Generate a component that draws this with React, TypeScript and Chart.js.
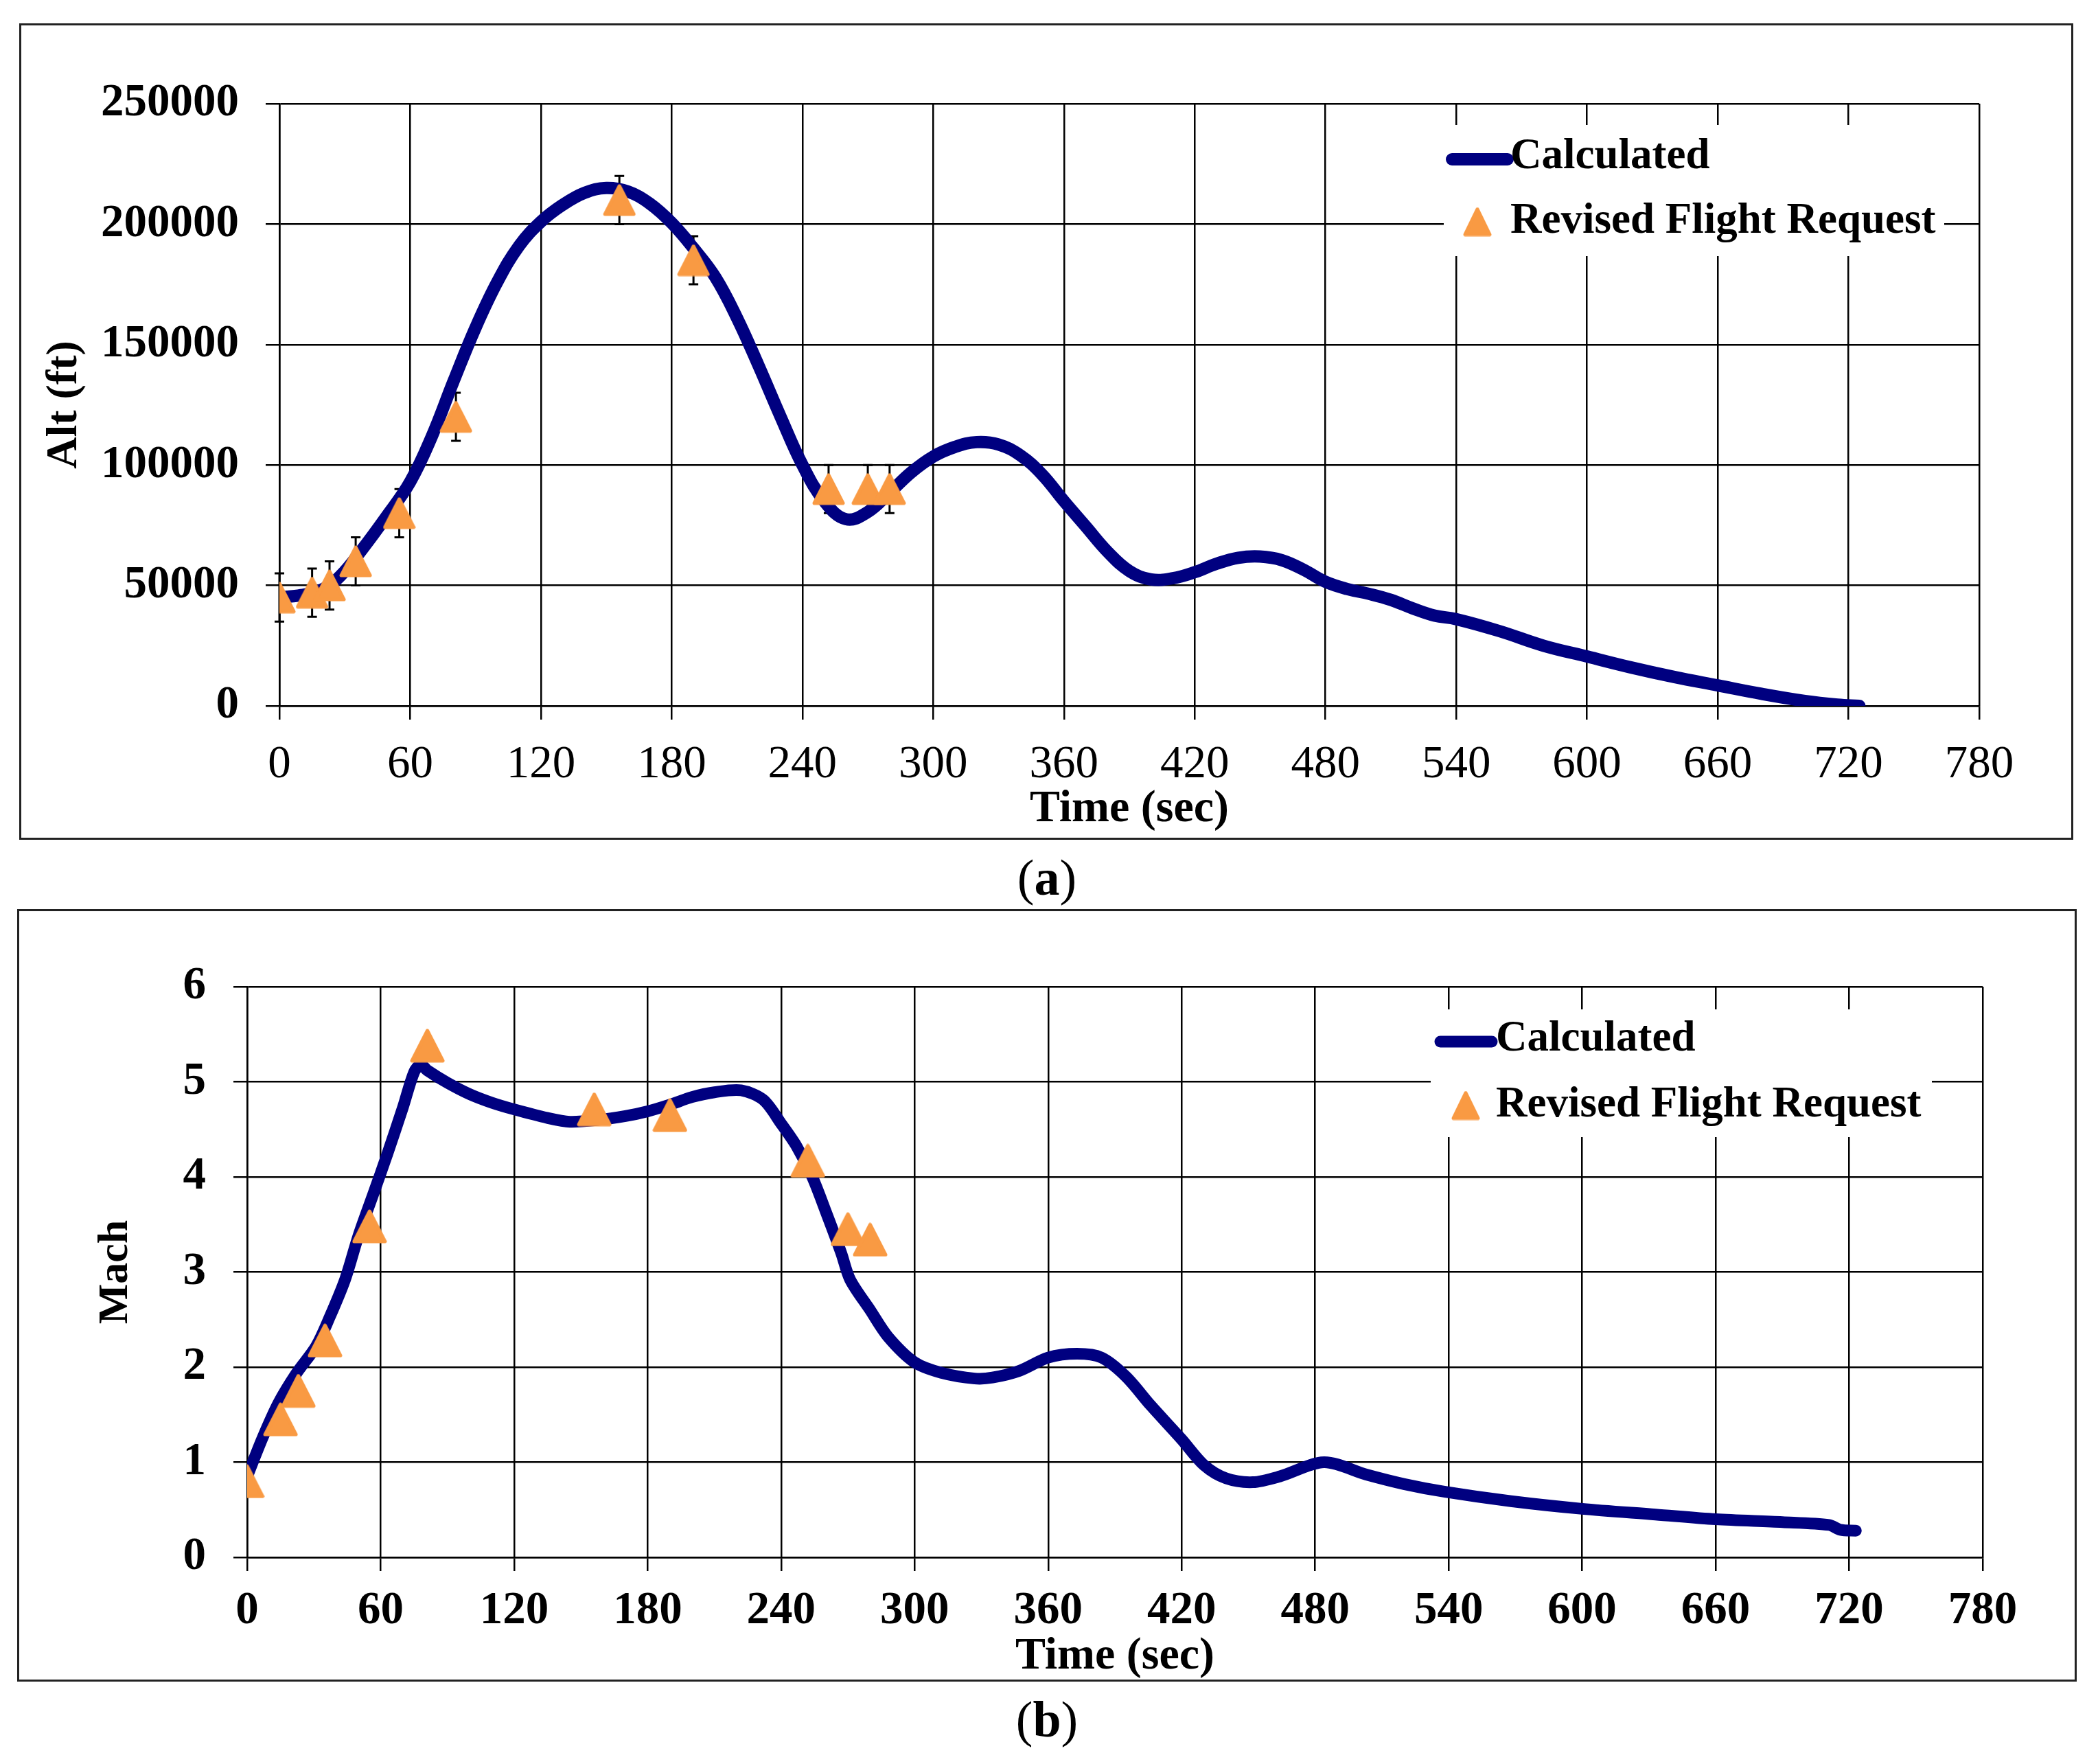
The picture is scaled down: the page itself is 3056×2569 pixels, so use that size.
import React, { useEffect, useRef } from 'react';
import { Chart, registerables } from 'chart.js';
Chart.register(...registerables);

const FONT = "'Liberation Serif', 'Times New Roman', serif";
const NAVY = '#000080';
const ORANGE = '#F99A43';

Chart.defaults.font.family = FONT;
Chart.defaults.color = '#000';

// shared time axis (sec)
const timeTicks = [0, 60, 120, 180, 240, 300, 360, 420, 480, 540, 600, 660, 720, 780];

// revised flight request points (same times on both panels)
const requestTime = [0, 15, 23, 35, 55, 81, 156, 190, 252, 270, 280];
const requestAlt = [45000, 47000, 50000, 60000, 80000, 120000, 210000, 185000, 90000, 90000, 90000];
const requestAltErr = [10000, 10000, 10000, 10000, 10000, 10000, 10000, 10000, 10000, 10000, 10000];
const requestMach = [0.8, 1.45, 1.75, 2.28, 3.48, 5.38, 4.71, 4.65, 4.17, 3.45, 3.34];

// (a) altitude
const altTicks = [0, 50000, 100000, 150000, 200000, 250000];
const altCalcTime = [
  0, 10, 20, 28, 38, 49,
  60, 70, 80, 90, 100, 110, 120, 130, 140, 150, 160, 170, 180, 190, 200, 210, 220, 230, 240,
  250, 260, 270, 280, 290, 300, 310, 320, 330, 340, 350, 360, 370, 380, 390, 400, 410, 420,
  430, 440, 450, 460, 470, 480, 490, 500, 510, 520, 530, 540,
  560, 580, 600, 620, 640, 660, 680, 700, 715, 725,
];
const altCalc = [
  45000, 46000, 48500, 54000, 65000, 78500,
  93000, 112000, 135000, 157000, 176000, 191000, 201000, 208000, 213000, 215000, 213500, 208500, 200500, 190000, 178000, 161000, 141000, 120000, 100000,
  85000, 77500, 80500, 88500, 97000, 103500, 107500, 109500, 108500, 104000, 96000, 85000, 74500, 64000, 56000, 52500, 53000, 55500,
  59000, 61500, 62000, 60500, 56500, 51500, 48500, 46500, 44000, 40500, 37500, 36000,
  31000, 25000, 20500, 16000, 12000, 8500, 5000, 2000, 500, 0,
];

// (b) Mach
const machTicks = [0, 1, 2, 3, 4, 5, 6];
const machCalcTime = [
  0, 7, 14, 22, 31, 37, 44, 50, 57, 63,
  70, 75, 78, 81, 90, 100, 110, 120, 135, 145,
  158, 170, 180, 190, 200, 210, 222, 232, 240, 247,
  254, 260, 267, 271, 280, 288, 300, 312, 327, 335,
  347, 360, 373, 384, 395, 406, 420, 430, 440, 452,
  464, 484, 503, 520, 538, 568, 600, 633, 660, 690,
  711, 716, 723,
];
const machCalc = [
  0.85, 1.26, 1.62, 1.93, 2.22, 2.52, 2.92, 3.38, 3.84, 4.24,
  4.73, 5.1, 5.18, 5.12, 4.99, 4.87, 4.78, 4.71, 4.62, 4.58,
  4.6, 4.64, 4.69, 4.76, 4.84, 4.89, 4.91, 4.81, 4.56, 4.32,
  4.0, 3.64, 3.2, 2.92, 2.6, 2.32, 2.05, 1.94, 1.88, 1.89,
  1.96, 2.1, 2.14, 2.1, 1.9, 1.6, 1.24, 0.97, 0.83, 0.79,
  0.85, 1.0, 0.87, 0.77, 0.69, 0.59, 0.51, 0.45, 0.4, 0.37,
  0.34, 0.29, 0.28,
];

// rounded orange triangle marker, like the spreadsheet one
function makeTriangle(w: number, h: number) {
  const c = document.createElement('canvas');
  c.width = w;
  c.height = h;
  const g = c.getContext('2d')!;
  const m = 3;
  g.fillStyle = ORANGE;
  g.strokeStyle = ORANGE;
  g.lineWidth = 5;
  g.lineJoin = 'round';
  g.beginPath();
  g.moveTo(w / 2, m);
  g.lineTo(w - m, h - m);
  g.lineTo(m, h - m);
  g.closePath();
  g.fill();
  g.stroke();
  return c;
}

const boxLegend = {
  id: 'boxLegend',
  beforeDatasetsDraw(chart: any, _args: any, o: any) {
    if (!o || !o.box) return;
    const ctx = chart.ctx;
    const [calc, req] = chart.data.datasets;
    ctx.save();
    ctx.fillStyle = '#fff';
    ctx.fillRect(o.box[0], o.box[1], o.box[2], o.box[3]);
    ctx.strokeStyle = calc.borderColor;
    ctx.lineWidth = o.lineWidth;
    ctx.lineCap = 'round';
    ctx.beginPath();
    ctx.moveTo(o.lineX[0], o.lineY);
    ctx.lineTo(o.lineX[1], o.lineY);
    ctx.stroke();
    const mark = o.mark;
    ctx.drawImage(mark, o.markX - mark.width / 2, o.markY - mark.height / 2);
    ctx.fillStyle = '#000';
    ctx.font = `bold ${o.fontSize}px ${FONT}`;
    ctx.textAlign = 'left';
    ctx.textBaseline = 'middle';
    ctx.fillText(calc.label, o.textX, o.lineY - 3);
    ctx.fillText(req.label, o.textX, o.markY);
    ctx.restore();
  },
};

const errorBars = {
  id: 'errorBars',
  beforeDatasetsDraw(chart: any, _args: any, o: any) {
    if (!o || !o.errors) return;
    const ctx = chart.ctx;
    const { x, y } = chart.scales;
    const ds = chart.data.datasets[o.datasetIndex];
    ctx.save();
    ctx.strokeStyle = '#000';
    ctx.lineWidth = 3;
    ds.data.forEach((p: any, i: number) => {
      const px = x.getPixelForValue(p.x);
      const top = y.getPixelForValue(p.y + o.errors[i]);
      const bot = y.getPixelForValue(p.y - o.errors[i]);
      ctx.beginPath();
      ctx.moveTo(px, top);
      ctx.lineTo(px, bot);
      ctx.moveTo(px - o.cap, top);
      ctx.lineTo(px + o.cap, top);
      ctx.moveTo(px - o.cap, bot);
      ctx.lineTo(px + o.cap, bot);
      ctx.stroke();
    });
    ctx.restore();
  },
};

const gridStyle = { color: '#000', lineWidth: 2.5, tickLength: 20, tickColor: '#000' };

function makeConfig(p: any): any {
  return {
    type: 'line',
    data: {
      datasets: [
        {
          label: 'Calculated',
          data: p.calcTime.map((t: number, i: number) => ({ x: t, y: p.calc[i] })),
          borderColor: NAVY,
          borderWidth: p.lineWidth,
          borderCapStyle: 'round',
          borderJoinStyle: 'round',
          pointRadius: 0,
          fill: false,
          order: 1,
          tension: p.tension,
        },
        {
          label: 'Revised Flight Request',
          data: requestTime.map((t, i) => ({ x: t, y: p.request[i] })),
          showLine: false,
          backgroundColor: ORANGE,
          borderColor: ORANGE,
          pointStyle: p.mark,
          pointRadius: 25,
          order: 0,
        },
      ],
    },
    options: {
      responsive: false,
      animation: false,
      devicePixelRatio: 1,
      layout: { padding: { top: p.area.top, right: p.area.right, left: 0, bottom: 0 } },
      scales: {
        x: {
          type: 'linear',
          min: 0,
          max: 780,
          afterBuildTicks: (s: any) => { s.ticks = timeTicks.map((v) => ({ value: v })); },
          afterFit: (s: any) => { s.height = p.area.bottom; },
          grid: gridStyle,
          border: { color: '#000', width: 2.5 },
          ticks: {
            font: { size: 67, weight: p.xTickWeight },
            color: '#000',
            padding: p.xTickPad,
            maxRotation: 0,
            autoSkip: false,
            callback: (v: any) => String(v),
          },
          title: {
            display: true,
            text: 'Time (sec)',
            color: '#000',
            font: { size: 66, weight: 'bold' },
            padding: { top: 0, bottom: p.xTitlePad },
          },
        },
        y: {
          type: 'linear',
          min: p.yTicks[0],
          max: p.yTicks[p.yTicks.length - 1],
          afterBuildTicks: (s: any) => { s.ticks = p.yTicks.map((v: number) => ({ value: v })); },
          afterFit: (s: any) => { s.width = p.area.left; },
          grid: gridStyle,
          border: { color: '#000', width: 2.5 },
          ticks: {
            font: { size: 67, weight: 'bold' },
            color: '#000',
            padding: p.yTickPad,
            callback: (v: any) => String(v),
          },
          title: {
            display: true,
            text: p.yTitle,
            color: '#000',
            font: { size: p.yTitleSize, weight: 'bold' },
            padding: { top: p.yTitlePad, bottom: 0 },
          },
        },
      },
      plugins: {
        legend: { display: false },
        tooltip: { enabled: false },
        boxLegend: { ...p.legend, mark: p.legendMark },
        errorBars: p.errors ? { datasetIndex: 1, errors: p.errors, cap: 7 } : {},
      },
    },
    plugins: [boxLegend, errorBars],
  };
}

const FlightChart: React.FC<{ width: number; height: number; build: () => any }> = (props) => {
  const ref = useRef<HTMLCanvasElement>(null);

  useEffect(() => {
    if (!ref.current) return;
    const chart = new Chart(ref.current, props.build());
    return () => {
      chart.destroy();
    };
  }, []);

  return (
    <canvas
      ref={ref}
      width={props.width}
      height={props.height}
      style={{ display: 'block', width: props.width, height: props.height }}
    />
  );
};

const buildAlt = () =>
  makeConfig({
    calcTime: altCalcTime,
    calc: altCalc,
    request: requestAlt,
    errors: requestAltErr,
    yTicks: altTicks,
    yTitle: 'Alt (ft)',
    yTitleSize: 64,
    yTitlePad: 25,
    yTickPad: 39,
    xTickPad: 26,
    xTickWeight: 'normal',
    xTitlePad: 1,
    lineWidth: 18,
    tension: 0.4,
    mark: makeTriangle(48, 47),
    legendMark: makeTriangle(42, 43),
    area: { left: 376, top: 114, right: 134, bottom: 192 },
    legend: {
      box: [2072, 145, 729, 191],
      lineX: [2084, 2165],
      lineY: 195,
      textX: 2169,
      markX: 2121,
      markY: 286,
      lineWidth: 18,
      fontSize: 63,
    },
  });

const buildMach = () =>
  makeConfig({
    calcTime: machCalcTime,
    calc: machCalc,
    request: requestMach,
    errors: null,
    yTicks: machTicks,
    yTitle: 'Mach',
    yTitleSize: 62,
    yTitlePad: 104,
    yTickPad: 40,
    xTickPad: 18,
    xTickWeight: 'bold',
    xTitlePad: -7,
    lineWidth: 17,
    tension: 0.3,
    mark: makeTriangle(51, 50),
    legendMark: makeTriangle(42, 43),
    area: { left: 332, top: 110, right: 134, bottom: 178 },
    legend: {
      box: [2056, 143, 730, 186],
      lineX: [2070, 2145],
      lineY: 190,
      textX: 2151,
      markX: 2107,
      markY: 283,
      lineWidth: 17,
      fontSize: 63,
    },
  });

const captionStyle: React.CSSProperties = {
  position: 'absolute',
  left: 0,
  width: 3050,
  textAlign: 'center',
  fontFamily: FONT,
  fontSize: 74,
  lineHeight: '74px',
  color: '#000',
};

export default function App() {
  return (
    <div style={{ position: 'absolute', left: 0, top: 0, width: 3056, height: 2569, background: '#fff' }}>
      <div
        style={{
          position: 'absolute',
          left: 28,
          top: 34,
          width: 2992,
          height: 1189,
          border: '3px solid #222',
          boxSizing: 'border-box',
        }}
      >
        <FlightChart width={2986} height={1183} build={buildAlt} />
      </div>
      <div style={{ ...captionStyle, top: 1241 }}>
        (<b>a</b>)
      </div>
      <div
        style={{
          position: 'absolute',
          left: 25,
          top: 1324,
          width: 3000,
          height: 1125,
          border: '3px solid #222',
          boxSizing: 'border-box',
        }}
      >
        <FlightChart width={2994} height={1119} build={buildMach} />
      </div>
      <div style={{ ...captionStyle, top: 2467 }}>
        (<b>b</b>)
      </div>
    </div>
  );
}
